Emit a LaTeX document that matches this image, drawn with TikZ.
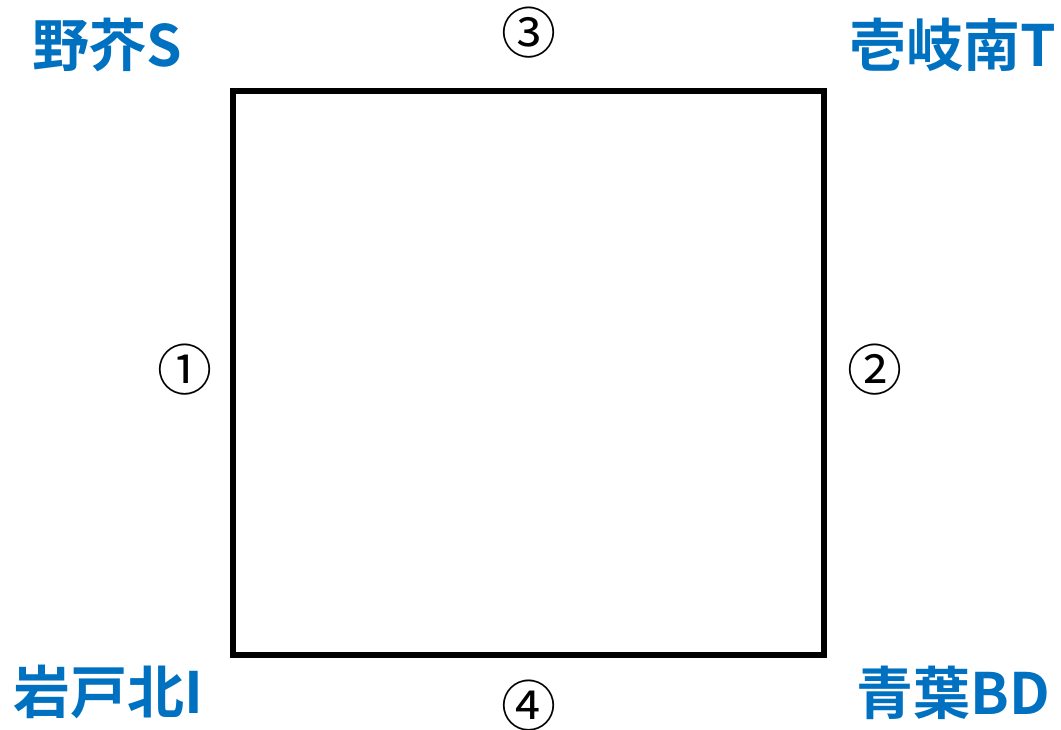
\documentclass[tikz,border=0pt]{standalone}
\usepackage{fontspec}
\newfontfamily\jpfont{Noto Sans CJK JP}[BoldFont={Noto Sans CJK JP Bold}]
\definecolor{stationblue}{HTML}{0070C0}
\tikzset{
    station/.style={font=\jpfont\bfseries\fontsize{57}{57}\selectfont, text=stationblue, inner sep=0pt},
    sidenum/.style={font=\jpfont\fontsize{55}{55}\selectfont, inner sep=0pt},
}
\begin{document}
\begin{tikzpicture}[x=1pt,y=-1pt]
\useasboundingbox (0,0) rectangle (1061,729);

% the block
\draw[line width=5.5pt] (233,91) rectangle (824,655);

% corner names
\node[station] (noke) at (107,45) {野芥S};
\node[station] (ikiminami) at (953,45) {壱岐南T};
\node[station] (iwatokita) at (108,692) {岩戸北I};
\node[station] (aoba) at (953,693) {青葉BD};

% side numbers
\node[sidenum] (s1) at (185,370) {①};
\node[sidenum] (s2) at (875,370) {②};
\node[sidenum] (s3) at (529,33) {③};
\node[sidenum] (s4) at (529,706) {④};

\end{tikzpicture}
\end{document}
